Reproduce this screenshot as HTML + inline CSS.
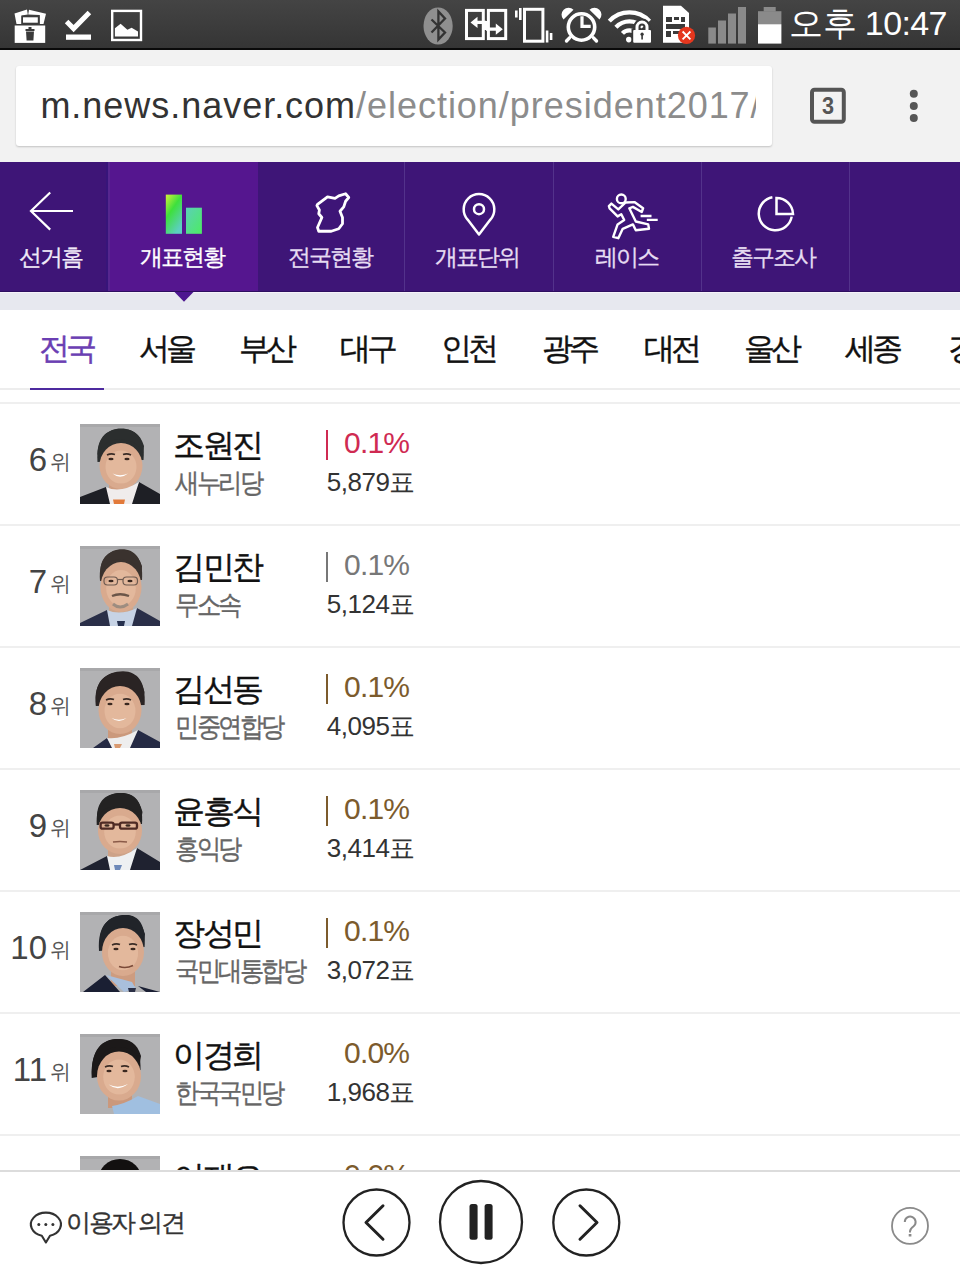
<!DOCTYPE html>
<html lang="ko">
<head>
<meta charset="utf-8">
<style>
*{margin:0;padding:0;box-sizing:border-box}
html,body{width:960px;height:1280px;overflow:hidden;background:#fff;font-family:"Liberation Sans",sans-serif}
.a{position:absolute;white-space:nowrap;line-height:1}
.b{position:absolute}
svg{position:absolute;left:0;top:0;overflow:visible}
</style>
</head>
<body>
<div class="b" style="left:0;top:0;width:960px;height:48px;background:linear-gradient(#444,#353535)"></div>
<div class="b" style="left:0;top:48px;width:960px;height:1.6px;background:#0a0a0a"></div><div class="b" style="left:0;top:49.6px;width:960px;height:1px;background:#fafafa"></div>
<svg width="960" height="50" viewBox="0 0 960 50">
<g fill="#fff">
 <!-- box w/ trash -->
 <path d="M14.5,13.5 L27,9.5 L27.8,14.5 L21.5,15.5 L21.5,24 L16.5,24 Z"/>
 <path d="M29,9.8 L46,13.8 L43.5,24 L39.8,24 L39.8,15 L28.2,14.6 Z"/>
 <rect x="22.2" y="16.5" width="16.4" height="7" stroke="#3c3c3c" stroke-width="1.6"/>
 <rect x="14.7" y="25.5" width="30.5" height="17.4"/>
 <!-- check -->
 <path d="M66.6,21.6 L73.6,28.6 L89.4,12.6" fill="none" stroke="#fff" stroke-width="5"/>
 <rect x="66" y="34.5" width="25" height="5.3"/>
 <!-- image -->
 <rect x="112.2" y="10.9" width="28.8" height="29.1" fill="none" stroke="#fff" stroke-width="2.4"/>
 <path d="M114.9,28.2 L120.6,23.8 L127.4,29.8 L131.6,27.8 L138,31.6 L138,36.6 L114.9,36.6 Z"/>
</g>
<g fill="#3a3a3a">
 <path d="M25.5,29 h9 v2 h-9 z"/>
 <path d="M26,31.5 h8 l-0.6,9 h-6.8 z"/>
 <rect x="28.5" y="27" width="3" height="2"/>
</g>
<!-- bluetooth -->
<ellipse cx="438.1" cy="26" rx="14.6" ry="18.6" fill="#8f8f8f"/>
<path d="M431.5,19.5 L445,32.5 L438.4,39.5 L438.4,11.5 L445,18.5 L431.5,32.5" fill="none" stroke="#333" stroke-width="2.3"/>
<!-- transfer -->
<g fill="none" stroke="#fff" stroke-width="3">
 <rect x="466.5" y="10.4" width="16.8" height="28.2"/>
 <rect x="488.4" y="10.4" width="17.3" height="28.2"/>
</g>
<g fill="#fff">
 <rect x="483.3" y="21" width="5.1" height="9"/>
 <path d="M470.5,22.4 L477.5,16.8 L477.5,20.8 L486,20.8 L486,24 L477.5,24 L477.5,28 Z"/>
 <path d="M502.8,29.2 L495.8,23.6 L495.8,27.6 L486,27.6 L486,30.8 L495.8,30.8 L495.8,34.8 Z"/>
</g>
<!-- vibrate -->
<rect x="524.5" y="9.3" width="18.4" height="31.9" fill="none" stroke="#fff" stroke-width="3"/>
<g fill="#fff">
 <rect x="515" y="10.5" width="2.6" height="7"/><rect x="519" y="8" width="2.6" height="12"/>
 <rect x="545.8" y="30.5" width="2.6" height="12"/><rect x="549.8" y="33" width="2.6" height="7"/>
</g>
<!-- alarm -->
<g fill="#fff">
 <path d="M563.5,19.5 A6.2,6.2 0 0 1 573.5,9.8 Z"/>
 <path d="M599.5,19.5 A6.2,6.2 0 0 0 589.5,9.8 Z"/>
</g>
<circle cx="581.5" cy="27" r="13.2" fill="none" stroke="#fff" stroke-width="3.6"/>
<path d="M582,16.2 V26.3 H590.7" fill="none" stroke="#fff" stroke-width="3.2"/>
<path d="M569.5,37.8 L566.5,41 M593.5,37.8 L596.5,41" stroke="#fff" stroke-width="3.4" stroke-linecap="round"/>
<!-- wifi -->
<g fill="none" stroke="#fff" stroke-width="4.2">
 <path d="M609.3,21.15 A27.5,27.5 0 0 1 649.5,21.15"/>
 <path d="M615.9,27.3 A18.5,18.5 0 0 1 642.9,27.3"/>
 <path d="M622.45,33.4 A9.5,9.5 0 0 1 636.35,33.4"/>
</g>
<circle cx="628.8" cy="39.6" r="2.8" fill="#fff"/>
<path d="M637,30.5 V27 A5,5 0 0 1 647,27 V30.5" fill="none" stroke="#383838" stroke-width="7"/>
<rect x="631.5" y="28.5" width="21" height="16" fill="#383838"/>
<path d="M637,30.5 V27 A5,5 0 0 1 647,27 V30.5" fill="none" stroke="#fff" stroke-width="3"/>
<rect x="633.2" y="30" width="17.8" height="12.7" rx="1" fill="#fff"/>
<rect x="641.3" y="33.5" width="1.6" height="6" fill="#383838"/><circle cx="642.1" cy="34.2" r="1.6" fill="#383838"/>
<!-- sim -->
<path d="M663,5.7 H681 L689,13 V42.7 H663 Z" fill="#fff"/>
<g fill="#3a3a3a">
 <rect x="666" y="17" width="6" height="5"/><rect x="674" y="17" width="5" height="3"/><rect x="681" y="17" width="4" height="5"/>
 <rect x="666" y="24" width="19" height="5"/>
 <rect x="666" y="31" width="5" height="6"/><rect x="673" y="31" width="8" height="3"/>
</g>
<circle cx="686.5" cy="35.4" r="8.6" fill="#e5371e"/>
<path d="M682.6,31.5 L690.4,39.3 M690.4,31.5 L682.6,39.3" stroke="#fff" stroke-width="1.8"/>
<!-- signal -->
<g fill="#8a8a8a">
 <rect x="708.3" y="27.5" width="7.6" height="16.1"/>
 <rect x="718" y="20.5" width="8" height="23.1"/>
 <rect x="728" y="13.5" width="8" height="30.1"/>
 <rect x="738" y="7" width="8" height="36.6"/>
</g>
<!-- battery -->
<rect x="763.7" y="7" width="12" height="4.5" fill="#8a8a8a"/>
<rect x="758" y="11.2" width="23.4" height="13" fill="#8a8a8a"/>
<rect x="758" y="24.2" width="23.4" height="19.4" fill="#fff"/>
</svg>
<div class="a" style="left:789.2px;top:6.3px;font-size:34px;color:#fff;letter-spacing:-0.6px;">오후 10:47</div>
<div class="b" style="left:0;top:50px;width:960px;height:112px;background:#f2f2f2"></div>
<div class="b" style="left:16px;top:66px;width:756px;height:80px;background:#fff;border-radius:3px;box-shadow:0 1px 2px rgba(0,0,0,.2);overflow:hidden"><div class="b" style="left:0;top:0;width:740px;height:80px;overflow:hidden"><div class="a" style="left:24.4px;top:21.7px;font-size:36px;color:#333;letter-spacing:0.97px">m.news.naver.com<span style="color:#8c8c8c">/election/president2017/</span></div></div></div>
<svg width="960" height="162" viewBox="0 0 960 162">
<rect x="812" y="89.8" width="31.8" height="31.9" rx="2.5" fill="none" stroke="#555" stroke-width="4"/>
<circle cx="913.8" cy="93.8" r="4" fill="#555"/><circle cx="913.8" cy="105.9" r="4" fill="#555"/><circle cx="913.8" cy="118" r="4" fill="#555"/>
</svg>
<div class="a" style="left:822px;top:93.5px;font-size:24px;color:#555;letter-spacing:0px;font-weight:bold;transform:scaleX(0.9);transform-origin:0 0">3</div>
<div class="b" style="left:0;top:162px;width:960px;height:130px;background:#3e1577"></div>
<div class="b" style="left:108px;top:162px;width:150px;height:130px;background:#55168f"></div>
<div class="b" style="left:404px;top:162px;width:1px;height:130px;background:#53328b"></div>
<div class="b" style="left:553px;top:162px;width:1px;height:130px;background:#53328b"></div>
<div class="b" style="left:701px;top:162px;width:1px;height:130px;background:#53328b"></div>
<div class="b" style="left:849px;top:162px;width:1px;height:130px;background:#53328b"></div>
<div class="b" style="left:0;top:292px;width:960px;height:18px;background:#e7e8ef"></div>
<div class="b" style="left:0;top:292px;width:960px;height:1px;background:#f6f2fa"></div>
<div class="b" style="left:0;top:291px;width:960px;height:1px;background:#2e0e60"></div>
<div class="b" style="left:106px;top:162px;width:2px;height:129px;background:#37157a"></div>
<div class="b" style="left:108px;top:162px;width:2px;height:129px;background:#56268f"></div>
<svg width="960" height="320" viewBox="0 0 960 320"><path d="M174.5,292 L184,301.8 L193.5,292 Z" fill="#4d1690"/></svg>
<div class="a" style="left:19px;top:245.5px;font-size:23px;color:#f0eaf8;letter-spacing:-2px;-webkit-text-stroke:0.3px #f0eaf8">선거홈</div>
<div class="a" style="left:140.25px;top:245.5px;font-size:23px;color:#fff;letter-spacing:-2px;-webkit-text-stroke:0.3px #fff">개표현황</div>
<div class="a" style="left:287.75px;top:245.5px;font-size:23px;color:#e6dcf2;letter-spacing:-2px;-webkit-text-stroke:0.3px #e6dcf2">전국현황</div>
<div class="a" style="left:435.25px;top:245.5px;font-size:23px;color:#e6dcf2;letter-spacing:-2px;-webkit-text-stroke:0.3px #e6dcf2">개표단위</div>
<div class="a" style="left:595.25px;top:245.5px;font-size:23px;color:#e6dcf2;letter-spacing:-2px;-webkit-text-stroke:0.3px #e6dcf2">레이스</div>
<div class="a" style="left:730.5px;top:245.5px;font-size:23px;color:#e6dcf2;letter-spacing:-2px;-webkit-text-stroke:0.3px #e6dcf2">출구조사</div>
<svg width="960" height="300" viewBox="0 0 960 300">
<defs>
 <linearGradient id="g1" x1="0" y1="0" x2="0.6" y2="1"><stop offset="0" stop-color="#d4f03a"/><stop offset="0.45" stop-color="#3ee03c"/><stop offset="1" stop-color="#5ccfc0"/></linearGradient>
 <linearGradient id="g2" x1="0" y1="0" x2="1" y2="1"><stop offset="0" stop-color="#5ccfb8"/><stop offset="1" stop-color="#4cec62"/></linearGradient>
</defs>
<path d="M50.2,192.5 L31,211 L50.2,229.6 M31,211 H73" fill="none" stroke="#fff" stroke-width="2.2"/>
<rect x="165.8" y="194.6" width="16.2" height="39.2" fill="url(#g1)"/>
<rect x="186" y="207.7" width="15.9" height="26.1" fill="url(#g2)"/>
<g fill="none" stroke="#fff" stroke-width="2.8" stroke-linejoin="round" stroke-linecap="round">
 <path d="M317.5,204.4 L327.5,196.9 L335,198.4 L338.75,195.9 L345.6,193.75 L348.75,197.5 L345.6,201.25 L343.75,206.9 L340,211.25 L342.5,217.5 L342.5,223.75 L338.75,228.75 L331.25,231.25 L318.75,231.25 L317.5,227.5 L321.9,217.5 L318.75,213.75 L319.4,210 L316.9,205.6 Z"/>
</g>
<g fill="none" stroke="#fff" stroke-width="2.5">
 <path d="M479,234.5 L467.6,219.6 A15.3,15.3 0 1 1 490.4,219.6 Z" stroke-linejoin="round"/>
 <circle cx="479" cy="209.2" r="5"/>
</g>
<g fill="none" stroke="#fff" stroke-width="2.4" stroke-linejoin="round">
 <circle cx="621.3" cy="198.9" r="4.4"/>
 <path d="M608.9,206.2 L611.4,203.6 L618.3,209.4 L625.6,202.5 L634.4,202.1 L643.1,208.3 L641.7,212 L632.9,206.9 L629.3,208.3 L635.8,221.5 L648.2,224.4 L649,228.8 L635.8,230.2 L632.9,224.4 L622.7,228.8 L618.3,238.2 L613.2,236.8 L617.6,224.4 L624.2,220 L621.3,214.2 L617.6,216.4 L609.6,208.3 Z"/>
 <path d="M640.6,216 H651.5 M646.8,219.9 H657.7"/>
</g>
<g fill="none" stroke="#fff" stroke-width="2.5">
 <path d="M772.4,197.3 A16.6,16.6 0 1 0 791.7,216.6"/>
 <path d="M776.5,214 V198 A16.5,16.5 0 0 1 793,214 Z"/>
</g>
</svg>
<div class="b" style="left:0;top:388px;width:960px;height:2px;background:#ededed"></div>
<div class="a" style="left:39px;top:333px;font-size:31px;color:#6b3fb3;letter-spacing:-4px;-webkit-text-stroke:0.4px #6b3fb3">전국</div>
<div class="a" style="left:139.4px;top:333px;font-size:31px;color:#111;letter-spacing:-4px;-webkit-text-stroke:0.4px #111">서울</div>
<div class="a" style="left:239.4px;top:333px;font-size:31px;color:#111;letter-spacing:-4px;-webkit-text-stroke:0.4px #111">부산</div>
<div class="a" style="left:340px;top:333px;font-size:31px;color:#111;letter-spacing:-4px;-webkit-text-stroke:0.4px #111">대구</div>
<div class="a" style="left:441px;top:333px;font-size:31px;color:#111;letter-spacing:-4px;-webkit-text-stroke:0.4px #111">인천</div>
<div class="a" style="left:542px;top:333px;font-size:31px;color:#111;letter-spacing:-4px;-webkit-text-stroke:0.4px #111">광주</div>
<div class="a" style="left:643.5px;top:333px;font-size:31px;color:#111;letter-spacing:-4px;-webkit-text-stroke:0.4px #111">대전</div>
<div class="a" style="left:744px;top:333px;font-size:31px;color:#111;letter-spacing:-4px;-webkit-text-stroke:0.4px #111">울산</div>
<div class="a" style="left:845px;top:333px;font-size:31px;color:#111;letter-spacing:-4px;-webkit-text-stroke:0.4px #111">세종</div>
<div class="a" style="left:948px;top:333px;font-size:31px;color:#111;letter-spacing:-4px;-webkit-text-stroke:0.4px #111">경기</div>
<div class="b" style="left:30px;top:387.6px;width:74px;height:2.6px;background:#4d2a9f"></div>
<div class="b" style="left:0;top:402px;width:960px;height:2px;background:#efefef"></div>
<div class="a" style="right:913px;top:443px;font-size:33px;color:#444;text-align:right">6</div>
<div class="a" style="left:50px;top:451px;font-size:21px;color:#555;letter-spacing:0px;">위</div>
<svg width="80" height="80" viewBox="0 0 80 80" style="left:80px;top:424px"><rect width="80" height="80" fill="#b2b2b4"/><rect width="80" height="3" fill="#a8a8aa"/><path d="M17.5,38 C15.5,14 28,4.5 41,4.5 C55,4.5 65.5,13 63.5,36 Z" fill="#2b2e2e"/><rect x="29" y="52" width="24" height="22" fill="#cf9d80"/><ellipse cx="41" cy="42" rx="21.5" ry="23" fill="#d9aa8e"/><ellipse cx="41" cy="43" rx="15.5" ry="16.6" fill="#e7bda3" opacity="0.7"/>
<path d="M19,34 C19,22 27,15 41,15.5 C54,16 62,22 63,32 L64,22 C60,9 52,5 41,5 C28,5 18,12 17.5,30 Z" fill="#2b2e2e"/>
<path d="M0,73 L26,63 L38,80 L0,80 Z M80,70 L59,58 L48,80 L80,80 Z" fill="#1e1f25"/>
<path d="M26,63 Q40,70 59,58 L52,80 L30,80 Z" fill="#f0ecec"/>
<path d="M33,75.5 L45,75.5 L44,80 L34,80 Z" fill="#e27a3a"/>
<path d="M32.5,49.5 Q40,56 48,49.5 Q40,53 32.5,49.5Z" fill="#fff"/><ellipse cx="31" cy="35" rx="2.6" ry="1.2" fill="#3a2820"/><ellipse cx="47" cy="35" rx="2.6" ry="1.2" fill="#3a2820"/><path d="M27,31 Q31,29 35,30.5 M43,30.5 Q47,29 51,31" stroke="#3a2c26" stroke-width="1.6" fill="none"/></svg>
<div class="a" style="left:173px;top:428.5px;font-size:32px;color:#111;letter-spacing:-2.5px;-webkit-text-stroke:0.4px #111">조원진</div>
<div class="a" style="left:174.7px;top:470.4px;font-size:27px;color:#666;letter-spacing:-3px;transform:scaleX(0.9);transform-origin:0 0;-webkit-text-stroke:0.35px #666">새누리당</div>
<div class="b" style="left:326px;top:430px;width:2px;height:30px;background:#cf2a52"></div>
<div class="a" style="left:344px;top:428.1px;font-size:30px;color:#cf2a52;letter-spacing:-0.8px;">0.1%</div>
<div class="a" style="left:326.8px;top:469.1px;font-size:26px;color:#333;letter-spacing:-0.5px;">5,879표</div>
<div class="b" style="left:0;top:524px;width:960px;height:2px;background:#efefef"></div>
<div class="a" style="right:913px;top:565px;font-size:33px;color:#444;text-align:right">7</div>
<div class="a" style="left:50px;top:573px;font-size:21px;color:#555;letter-spacing:0px;">위</div>
<svg width="80" height="80" viewBox="0 0 80 80" style="left:80px;top:546px"><rect width="80" height="80" fill="#b2b2b4"/><rect width="80" height="3" fill="#a8a8aa"/><path d="M20,35 C18,13 29,3.3 42,3.3 C55,3.3 63.5,13 62,34 Z" fill="#3a322e"/><rect x="29" y="52" width="24" height="22" fill="#cda68c"/><ellipse cx="41" cy="41" rx="20.5" ry="25" fill="#d9aa8e"/><ellipse cx="41" cy="42" rx="14.8" ry="18.0" fill="#e7bda3" opacity="0.7"/>
<path d="M21,30 C22,18 30,13 42,13.5 C52,14 60,20 61.5,30 L62,20 C58,8 50,4 42,4 C30,4 20,11 20.5,26 Z" fill="#3a322e"/>
<path d="M0,77 L27,64 L38,80 L0,80 Z M80,75 L57,62 L46,80 L80,80 Z" fill="#2a2f48"/>
<path d="M27,64 Q40,70 57,62 L52,80 L30,80 Z" fill="#c7d3e5"/>
<path d="M37,75 L45,75 L44,80 L38,80 Z" fill="#26304e"/><ellipse cx="31" cy="35" rx="2.6" ry="1.2" fill="#3a2820"/><ellipse cx="50" cy="35" rx="2.6" ry="1.2" fill="#3a2820"/>
<g fill="none" stroke="#6e5a50" stroke-width="1.2"><rect x="24" y="31" width="13.5" height="8" rx="3.5"/><rect x="43" y="31" width="14.5" height="8" rx="3.5"/><path d="M37.5,33.5 H43"/></g>
<path d="M32,50 Q40,46.5 49,50" stroke="#6b5548" stroke-width="2.4" fill="none"/>
<path d="M33,58 Q40,64 48,58" stroke="#8d847c" stroke-width="3" fill="none" opacity="0.8"/></svg>
<div class="a" style="left:173px;top:550.5px;font-size:32px;color:#111;letter-spacing:-2.5px;-webkit-text-stroke:0.4px #111">김민찬</div>
<div class="a" style="left:174.7px;top:592.4px;font-size:27px;color:#666;letter-spacing:-3px;transform:scaleX(0.9);transform-origin:0 0;-webkit-text-stroke:0.35px #666">무소속</div>
<div class="b" style="left:326px;top:552px;width:2px;height:30px;background:#777"></div>
<div class="a" style="left:344px;top:550.1px;font-size:30px;color:#777;letter-spacing:-0.8px;">0.1%</div>
<div class="a" style="left:326.8px;top:591.1px;font-size:26px;color:#333;letter-spacing:-0.5px;">5,124표</div>
<div class="b" style="left:0;top:646px;width:960px;height:2px;background:#efefef"></div>
<div class="a" style="right:913px;top:687px;font-size:33px;color:#444;text-align:right">8</div>
<div class="a" style="left:50px;top:695px;font-size:21px;color:#555;letter-spacing:0px;">위</div>
<svg width="80" height="80" viewBox="0 0 80 80" style="left:80px;top:668px"><rect width="80" height="80" fill="#b2b2b4"/><rect width="80" height="3" fill="#a8a8aa"/><path d="M15.8,38 C13,14 26,3.3 43,3.3 C58,3.3 66,15 64.6,37 Z" fill="#2a2424"/><rect x="28" y="52" width="24" height="22" fill="#cb997c"/><ellipse cx="40" cy="42" rx="21.5" ry="24" fill="#d9aa8e"/><ellipse cx="40" cy="43" rx="15.5" ry="17.3" fill="#e7bda3" opacity="0.7"/>
<path d="M18,34 C18,22 26,17 38,17 C50,17 59,21 63,31 L64.5,24 C61,9 52,4 43,4 C27,4 15,12 16,32 Z" fill="#2a2424"/>
<path d="M13,80 L27,70 L38,80 Z M80,74 L58,62 L46,80 L80,80 Z" fill="#252a44"/>
<path d="M27,70 Q40,72 58,62 L50,80 L32,80 Z" fill="#eeeeee"/>
<path d="M34,76 L42,76 L40,80 L35,80 Z" fill="#d99a70"/>
<path d="M31.5,50 Q39,56 46.5,50 Q39,53.5 31.5,50Z" fill="#fff"/><ellipse cx="30" cy="36" rx="2.6" ry="1.2" fill="#3a2820"/><ellipse cx="47" cy="36" rx="2.6" ry="1.2" fill="#3a2820"/><path d="M26,32 Q30,30 34,31.5 M43,31.5 Q47,30 51,32" stroke="#3a2c26" stroke-width="1.6" fill="none"/></svg>
<div class="a" style="left:173px;top:672.5px;font-size:32px;color:#111;letter-spacing:-2.5px;-webkit-text-stroke:0.4px #111">김선동</div>
<div class="a" style="left:174.7px;top:714.4px;font-size:27px;color:#666;letter-spacing:-3px;transform:scaleX(0.9);transform-origin:0 0;-webkit-text-stroke:0.35px #666">민중연합당</div>
<div class="b" style="left:326px;top:674px;width:2px;height:30px;background:#7c5b2d"></div>
<div class="a" style="left:344px;top:672.1px;font-size:30px;color:#7c5b2d;letter-spacing:-0.8px;">0.1%</div>
<div class="a" style="left:326.8px;top:713.1px;font-size:26px;color:#333;letter-spacing:-0.5px;">4,095표</div>
<div class="b" style="left:0;top:768px;width:960px;height:2px;background:#efefef"></div>
<div class="a" style="right:913px;top:809px;font-size:33px;color:#444;text-align:right">9</div>
<div class="a" style="left:50px;top:817px;font-size:21px;color:#555;letter-spacing:0px;">위</div>
<svg width="80" height="80" viewBox="0 0 80 80" style="left:80px;top:790px"><rect width="80" height="80" fill="#b2b2b4"/><rect width="80" height="3" fill="#a8a8aa"/><path d="M16.7,35 C15.5,12 27,2.9 41,2.9 C55,2.9 63.5,12 62,34 Z" fill="#232222"/><rect x="28" y="52" width="24" height="22" fill="#cda288"/><ellipse cx="40" cy="41" rx="22" ry="23" fill="#d9aa8e"/><ellipse cx="40" cy="42" rx="15.8" ry="16.6" fill="#e7bda3" opacity="0.7"/>
<path d="M18.5,31 C19,20 27,16 40,16.5 C52,17 60,21 61,31 L62.5,22 C59,8 51,3 41,3 C27,3 17,10 17,28 Z" fill="#232222"/>
<path d="M0,80 L27,66 L36,80 Z M80,72 L57,58 L46,80 L80,80 Z" fill="#1f2230"/>
<path d="M27,66 Q40,70 57,58 L50,80 L30,80 Z" fill="#eef0f2"/>
<path d="M34,75 L42,75 L40,80 L35,80 Z" fill="#6d88b8"/><ellipse cx="27" cy="35.5" rx="2.6" ry="1.2" fill="#3a2820"/><ellipse cx="48" cy="35.5" rx="2.6" ry="1.2" fill="#3a2820"/>
<g fill="none" stroke="#4e2a24" stroke-width="2.3"><rect x="20.6" y="32.7" width="13" height="6" rx="2"/><rect x="40" y="32.7" width="17" height="6" rx="2"/><path d="M33.6,34.5 H40"/></g>
<path d="M33,52 Q40,51 47,52" stroke="#8a5a48" stroke-width="1.3" fill="none"/></svg>
<div class="a" style="left:173px;top:794.5px;font-size:32px;color:#111;letter-spacing:-2.5px;-webkit-text-stroke:0.4px #111">윤홍식</div>
<div class="a" style="left:174.7px;top:836.4px;font-size:27px;color:#666;letter-spacing:-3px;transform:scaleX(0.9);transform-origin:0 0;-webkit-text-stroke:0.35px #666">홍익당</div>
<div class="b" style="left:326px;top:796px;width:2px;height:30px;background:#7c5b2d"></div>
<div class="a" style="left:344px;top:794.1px;font-size:30px;color:#7c5b2d;letter-spacing:-0.8px;">0.1%</div>
<div class="a" style="left:326.8px;top:835.1px;font-size:26px;color:#333;letter-spacing:-0.5px;">3,414표</div>
<div class="b" style="left:0;top:890px;width:960px;height:2px;background:#efefef"></div>
<div class="a" style="right:913px;top:931px;font-size:33px;color:#444;text-align:right">10</div>
<div class="a" style="left:50px;top:939px;font-size:21px;color:#555;letter-spacing:0px;">위</div>
<svg width="80" height="80" viewBox="0 0 80 80" style="left:80px;top:912px"><rect width="80" height="80" fill="#b2b2b4"/><rect width="80" height="3" fill="#a8a8aa"/><path d="M19,39 C17,12 30,2.9 46,2.9 C59,2.9 66,13 64.6,35 Z" fill="#212429"/><rect x="31" y="52" width="24" height="22" fill="#cd9c80"/><ellipse cx="43" cy="40" rx="21" ry="24" fill="#d9aa8e"/><ellipse cx="43" cy="41" rx="15.1" ry="17.3" fill="#e7bda3" opacity="0.7"/>
<path d="M21,35 C22,22 30,15 44,14 C55,14 62,20 64,30 L65,22 C61,8 53,3 46,3 C30,3 18,12 20,36 Z" fill="#212429"/>
<path d="M3,80 L25,63 L40,80 Z M80,80 L58,74 L66,80 Z" fill="#1a1f33"/>
<path d="M26,63 L44,80 L56,77 L52,70 Z" fill="#a9bfdc"/>
<path d="M48,76 L56,76 L55,80 L49,80 Z" fill="#2b3046"/>
<path d="M39,54.5 Q46,57 53,53.5" stroke="#7a4a38" stroke-width="1.6" fill="none"/><ellipse cx="36" cy="37" rx="2.6" ry="1.2" fill="#3a2820"/><ellipse cx="53" cy="37" rx="2.6" ry="1.2" fill="#3a2820"/><path d="M32,33 Q36,31 40,32.5 M49,32.5 Q53,31 57,33" stroke="#3a2c26" stroke-width="1.6" fill="none"/></svg>
<div class="a" style="left:173px;top:916.5px;font-size:32px;color:#111;letter-spacing:-2.5px;-webkit-text-stroke:0.4px #111">장성민</div>
<div class="a" style="left:174.7px;top:958.4px;font-size:27px;color:#666;letter-spacing:-3px;transform:scaleX(0.9);transform-origin:0 0;-webkit-text-stroke:0.35px #666">국민대통합당</div>
<div class="b" style="left:326px;top:918px;width:2px;height:30px;background:#7c5b2d"></div>
<div class="a" style="left:344px;top:916.1px;font-size:30px;color:#7c5b2d;letter-spacing:-0.8px;">0.1%</div>
<div class="a" style="left:326.8px;top:957.1px;font-size:26px;color:#333;letter-spacing:-0.5px;">3,072표</div>
<div class="b" style="left:0;top:1012px;width:960px;height:2px;background:#efefef"></div>
<div class="a" style="right:913px;top:1053px;font-size:33px;color:#444;text-align:right">11</div>
<div class="a" style="left:50px;top:1061px;font-size:21px;color:#555;letter-spacing:0px;">위</div>
<svg width="80" height="80" viewBox="0 0 80 80" style="left:80px;top:1034px"><rect width="80" height="80" fill="#b2b2b4"/><rect width="80" height="3" fill="#a8a8aa"/><path d="M11.7,44 C10,16 23,5 38,5 C52,5 61,13 60.5,36 Z" fill="#1c1919"/><rect x="28" y="52" width="24" height="22" fill="#ca987c"/><ellipse cx="39" cy="42" rx="22" ry="24.5" fill="#d9aa8e"/><ellipse cx="39" cy="43" rx="15.8" ry="17.6" fill="#e7bda3" opacity="0.7"/>
<path d="M17,40 C17,24 24,14 36,13 C48,12 57,17 60,28 L61,22 C57,9 50,5 38,5 C22,5 11,15 12,42 Z" fill="#1c1919"/>
<path d="M32,72 Q45,70 58,62 L80,70 L80,80 L34,80 Z" fill="#a0bfe0"/>
<path d="M28.5,50.5 Q38,58 48,50 Q38,55 28.5,50.5Z" fill="#fff"/><ellipse cx="29" cy="37" rx="2.6" ry="1.2" fill="#3a2820"/><ellipse cx="45" cy="37" rx="2.6" ry="1.2" fill="#3a2820"/><path d="M25,33 Q29,31 33,32.5 M41,32.5 Q45,31 49,33" stroke="#3a2c26" stroke-width="1.6" fill="none"/></svg>
<div class="a" style="left:173px;top:1038.5px;font-size:32px;color:#111;letter-spacing:-2.5px;-webkit-text-stroke:0.4px #111">이경희</div>
<div class="a" style="left:174.7px;top:1080.4px;font-size:27px;color:#666;letter-spacing:-3px;transform:scaleX(0.9);transform-origin:0 0;-webkit-text-stroke:0.35px #666">한국국민당</div>
<div class="a" style="left:344px;top:1038.1px;font-size:30px;color:#7c5b2d;letter-spacing:-0.8px;">0.0%</div>
<div class="a" style="left:326.8px;top:1079.1px;font-size:26px;color:#333;letter-spacing:-0.5px;">1,968표</div>
<div class="b" style="left:0;top:1134px;width:960px;height:2px;background:#efefef"></div>
<div class="a" style="right:913px;top:1175px;font-size:33px;color:#444;text-align:right">12</div>
<div class="a" style="left:50px;top:1183px;font-size:21px;color:#555;letter-spacing:0px;">위</div>
<svg width="80" height="80" viewBox="0 0 80 80" style="left:80px;top:1156px"><rect width="80" height="80" fill="#b2b2b4"/><rect width="80" height="3" fill="#a8a8aa"/><ellipse cx="40" cy="24" rx="22" ry="21" fill="#121010"/></svg>
<div class="a" style="left:173px;top:1160.5px;font-size:32px;color:#111;letter-spacing:-2.5px;-webkit-text-stroke:0.4px #111">이재오</div>
<div class="a" style="left:174.7px;top:1202.4px;font-size:27px;color:#666;letter-spacing:-3px;transform:scaleX(0.9);transform-origin:0 0;-webkit-text-stroke:0.35px #666">늘푸른한국당</div>
<div class="a" style="left:344px;top:1160.1px;font-size:30px;color:#7c5b2d;letter-spacing:-0.8px;">0.0%</div>
<div class="a" style="left:326.8px;top:1201.1px;font-size:26px;color:#333;letter-spacing:-0.5px;">1,000표</div>
<div class="b" style="left:0;top:1170px;width:960px;height:110px;background:#fff"></div>
<div class="b" style="left:0;top:1170px;width:960px;height:2px;background:#dcdcdc"></div>
<div class="a" style="left:66.3px;top:1209.7px;font-size:25px;color:#333;letter-spacing:-2.5px;-webkit-text-stroke:0.35px #333">이용자 의견</div>
<svg width="960" height="1280" viewBox="0 0 960 1280">
<path d="M41.8,1235.8 A15,11.8 0 1 1 50,1235.8 L45.9,1242.5 Z" fill="none" stroke="#333" stroke-width="2.1" stroke-linejoin="round"/>
<circle cx="38.8" cy="1224.6" r="1.5" fill="#333"/><circle cx="45.8" cy="1224.6" r="1.5" fill="#333"/><circle cx="52.9" cy="1224.6" r="1.5" fill="#333"/>
<g fill="none" stroke="#222" stroke-width="2.3">
 <circle cx="376.5" cy="1222.5" r="33"/>
 <circle cx="481" cy="1222" r="41"/>
 <circle cx="586.3" cy="1222.5" r="33"/>
</g>
<path d="M383,1205.8 L366,1222.5 L383,1239.2" fill="none" stroke="#222" stroke-width="3" stroke-linecap="round" stroke-linejoin="round"/>
<path d="M580,1205.8 L597,1222.5 L580,1239.2" fill="none" stroke="#222" stroke-width="3" stroke-linecap="round" stroke-linejoin="round"/>
<rect x="469.5" y="1204" width="8.1" height="35.7" rx="2.5" fill="#222"/>
<rect x="484.6" y="1204" width="8" height="35.7" rx="2.5" fill="#222"/>
<circle cx="910" cy="1225.9" r="18" fill="none" stroke="#8a8a8a" stroke-width="1.8"/>
<path d="M904.8,1222 A5.4,5.4 0 1 1 913.6,1226.2 C911,1228 910,1229 910,1231.5 V1232.5" fill="none" stroke="#8a8a8a" stroke-width="2"/>
<rect x="908.7" y="1234" width="2.7" height="2.5" fill="#8a8a8a"/>
</svg>
</body>
</html>
